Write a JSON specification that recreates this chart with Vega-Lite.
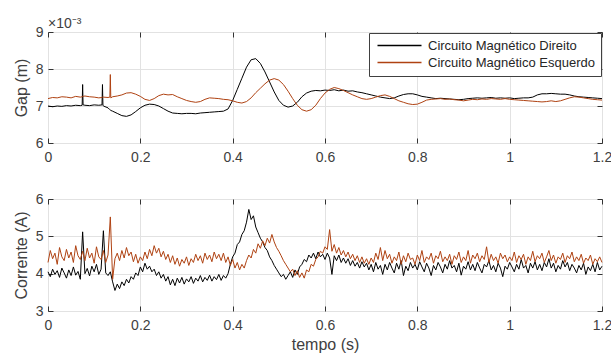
{
"$schema":"https://vega.github.io/schema/vega-lite/v6.json",
"padding":{"left":12,"top":16,"right":0,"bottom":0},
"background":"white",
"config":{
 "font":"Liberation Sans",
 "view":{"stroke":"#555555","strokeWidth":1},
 "axis":{"grid":true,"gridColor":"#e2e2e2","domain":false,"tickColor":"#333333","tickSize":-5,"labelPadding":10,"labelFontSize":14,"labelColor":"#404040","titleFontSize":16,"titleFontWeight":"normal","titleColor":"#404040","labelFlush":false,"labelOverlap":false,"titlePadding":6},
 "axisX":{"labelPadding":12,"titlePadding":4},
 "legend":{"labelFontSize":13,"labelColor":"#262626"}
},
"datasets":{
"gap":[
{"t":0,"d":0.00700,"e":0.00720},{"t":0.01,"d":0.00698,"e":0.00723},{"t":0.02,"d":0.00700,"e":0.00722},{"t":0.03,"d":0.00699,"e":0.00725},{"t":0.04,"d":0.00701,"e":0.00724},{"t":0.05,"d":0.00700,"e":0.00722},{"t":0.06,"d":0.00702,"e":0.00726},{"t":0.07,"d":0.00701,"e":0.00724},{"t":0.074,"d":0.00702,"e":0.00725},{"t":0.075,"d":0.00758,"e":0.00726},{"t":0.076,"d":0.00703,"e":0.00726},{"t":0.08,"d":0.00702,"e":0.00727},{"t":0.09,"d":0.00701,"e":0.00725},{"t":0.10,"d":0.00703,"e":0.00724},{"t":0.11,"d":0.00702,"e":0.00722},{"t":0.117,"d":0.00703,"e":0.00723},{"t":0.118,"d":0.00758,"e":0.00724},{"t":0.119,"d":0.00702,"e":0.00724},{"t":0.12,"d":0.00700,"e":0.00724},{"t":0.13,"d":0.00695,"e":0.00723},{"t":0.134,"d":0.00690,"e":0.00724},{"t":0.135,"d":0.00689,"e":0.00785},{"t":0.136,"d":0.00688,"e":0.00722},{"t":0.14,"d":0.00686,"e":0.00725},{"t":0.15,"d":0.00680,"e":0.00727},{"t":0.16,"d":0.00674,"e":0.00730},{"t":0.17,"d":0.00672,"e":0.00735},{"t":0.18,"d":0.00676,"e":0.00736},{"t":0.19,"d":0.00685,"e":0.00732},{"t":0.20,"d":0.00695,"e":0.00726},{"t":0.21,"d":0.00702,"e":0.00718},{"t":0.22,"d":0.00705,"e":0.00715},{"t":0.23,"d":0.00704,"e":0.00720},{"t":0.24,"d":0.00700,"e":0.00728},{"t":0.25,"d":0.00693,"e":0.00732},{"t":0.26,"d":0.00686,"e":0.00730},{"t":0.27,"d":0.00681,"e":0.00731},{"t":0.28,"d":0.00680,"e":0.00725},{"t":0.29,"d":0.00679,"e":0.00720},{"t":0.30,"d":0.00680,"e":0.00715},{"t":0.31,"d":0.00680,"e":0.00712},{"t":0.32,"d":0.00679,"e":0.00710},{"t":0.33,"d":0.00681,"e":0.00712},{"t":0.34,"d":0.00682,"e":0.00718},{"t":0.35,"d":0.00683,"e":0.00722},{"t":0.36,"d":0.00684,"e":0.00721},{"t":0.37,"d":0.00685,"e":0.00720},{"t":0.38,"d":0.00686,"e":0.00718},{"t":0.39,"d":0.00692,"e":0.00717},{"t":0.40,"d":0.00715,"e":0.00714},{"t":0.41,"d":0.00745,"e":0.00710},{"t":0.42,"d":0.00775,"e":0.00708},{"t":0.43,"d":0.00805,"e":0.00712},{"t":0.44,"d":0.00825,"e":0.00722},{"t":0.45,"d":0.00828,"e":0.00736},{"t":0.46,"d":0.00815,"e":0.00748},{"t":0.47,"d":0.00792,"e":0.00760},{"t":0.48,"d":0.00765,"e":0.00770},{"t":0.49,"d":0.00738,"e":0.00774},{"t":0.50,"d":0.00715,"e":0.00770},{"t":0.51,"d":0.00702,"e":0.00758},{"t":0.52,"d":0.00697,"e":0.00740},{"t":0.53,"d":0.00700,"e":0.00720},{"t":0.54,"d":0.00710,"e":0.00702},{"t":0.55,"d":0.00725,"e":0.00690},{"t":0.56,"d":0.00735,"e":0.00686},{"t":0.57,"d":0.00740,"e":0.00690},{"t":0.58,"d":0.00742,"e":0.00702},{"t":0.59,"d":0.00741,"e":0.00720},{"t":0.60,"d":0.00743,"e":0.00735},{"t":0.61,"d":0.00742,"e":0.00745},{"t":0.62,"d":0.00744,"e":0.00750},{"t":0.63,"d":0.00741,"e":0.00747},{"t":0.64,"d":0.00743,"e":0.00742},{"t":0.65,"d":0.00740,"e":0.00736},{"t":0.66,"d":0.00741,"e":0.00730},{"t":0.67,"d":0.00738,"e":0.00725},{"t":0.68,"d":0.00736,"e":0.00720},{"t":0.69,"d":0.00733,"e":0.00718},{"t":0.70,"d":0.00730,"e":0.00720},{"t":0.71,"d":0.00727,"e":0.00724},{"t":0.72,"d":0.00724,"e":0.00728},{"t":0.73,"d":0.00722,"e":0.00730},{"t":0.74,"d":0.00720,"e":0.00726},{"t":0.75,"d":0.00722,"e":0.00720},{"t":0.76,"d":0.00727,"e":0.00714},{"t":0.77,"d":0.00731,"e":0.00710},{"t":0.78,"d":0.00733,"e":0.00706},{"t":0.79,"d":0.00733,"e":0.00704},{"t":0.80,"d":0.00730,"e":0.00705},{"t":0.81,"d":0.00726,"e":0.00710},{"t":0.82,"d":0.00724,"e":0.00716},{"t":0.83,"d":0.00722,"e":0.00718},{"t":0.84,"d":0.00720,"e":0.00719},{"t":0.85,"d":0.00721,"e":0.00720},{"t":0.86,"d":0.00720,"e":0.00718},{"t":0.87,"d":0.00719,"e":0.00719},{"t":0.88,"d":0.00718,"e":0.00717},{"t":0.89,"d":0.00717,"e":0.00716},{"t":0.90,"d":0.00718,"e":0.00714},{"t":0.91,"d":0.00720,"e":0.00716},{"t":0.92,"d":0.00721,"e":0.00718},{"t":0.93,"d":0.00722,"e":0.00717},{"t":0.94,"d":0.00721,"e":0.00719},{"t":0.95,"d":0.00722,"e":0.00718},{"t":0.96,"d":0.00723,"e":0.00720},{"t":0.97,"d":0.00721,"e":0.00719},{"t":0.98,"d":0.00722,"e":0.00718},{"t":0.99,"d":0.00721,"e":0.00720},{"t":1.00,"d":0.00722,"e":0.00718},{"t":1.01,"d":0.00720,"e":0.00717},{"t":1.02,"d":0.00721,"e":0.00716},{"t":1.03,"d":0.00722,"e":0.00715},{"t":1.04,"d":0.00722,"e":0.00714},{"t":1.05,"d":0.00724,"e":0.00713},{"t":1.06,"d":0.00730,"e":0.00712},{"t":1.07,"d":0.00733,"e":0.00711},{"t":1.08,"d":0.00733,"e":0.00712},{"t":1.09,"d":0.00734,"e":0.00714},{"t":1.10,"d":0.00733,"e":0.00712},{"t":1.11,"d":0.00732,"e":0.00714},{"t":1.12,"d":0.00732,"e":0.00718},{"t":1.13,"d":0.00730,"e":0.00722},{"t":1.14,"d":0.00727,"e":0.00725},{"t":1.15,"d":0.00725,"e":0.00724},{"t":1.16,"d":0.00724,"e":0.00722},{"t":1.17,"d":0.00723,"e":0.00720},{"t":1.18,"d":0.00722,"e":0.00718},{"t":1.19,"d":0.00721,"e":0.00717},{"t":1.20,"d":0.00720,"e":0.00716}
],
"cur":[
{"t":0,"d":4.05,"e":4.30},{"t":0.005,"d":3.92,"e":4.62},{"t":0.01,"d":4.12,"e":4.40},{"t":0.015,"d":3.98,"e":4.55},{"t":0.02,"d":4.08,"e":4.25},{"t":0.025,"d":3.90,"e":4.70},{"t":0.03,"d":4.15,"e":4.45},{"t":0.035,"d":4.02,"e":4.35},{"t":0.04,"d":3.88,"e":4.65},{"t":0.045,"d":4.10,"e":4.42},{"t":0.05,"d":3.95,"e":4.58},{"t":0.055,"d":4.18,"e":4.30},{"t":0.06,"d":3.96,"e":4.75},{"t":0.065,"d":4.06,"e":4.48},{"t":0.07,"d":3.85,"e":4.38},{"t":0.075,"d":5.12,"e":4.60},{"t":0.08,"d":4.00,"e":4.35},{"t":0.085,"d":4.14,"e":4.68},{"t":0.09,"d":3.94,"e":4.42},{"t":0.095,"d":4.20,"e":4.55},{"t":0.1,"d":4.05,"e":4.28},{"t":0.105,"d":4.25,"e":4.72},{"t":0.11,"d":3.98,"e":4.45},{"t":0.115,"d":4.12,"e":4.38},{"t":0.12,"d":5.15,"e":4.62},{"t":0.125,"d":4.02,"e":4.30},{"t":0.13,"d":3.95,"e":4.50},{"t":0.135,"d":4.05,"e":5.52},{"t":0.14,"d":3.78,"e":3.85},{"t":0.145,"d":3.55,"e":4.40},{"t":0.15,"d":3.72,"e":4.55},{"t":0.155,"d":3.60,"e":4.35},{"t":0.16,"d":3.78,"e":4.62},{"t":0.165,"d":3.68,"e":4.42},{"t":0.17,"d":3.85,"e":4.70},{"t":0.175,"d":3.75,"e":4.48},{"t":0.18,"d":3.92,"e":4.58},{"t":0.185,"d":3.85,"e":4.32},{"t":0.19,"d":4.02,"e":4.52},{"t":0.195,"d":3.95,"e":4.28},{"t":0.2,"d":4.18,"e":4.45},{"t":0.205,"d":4.05,"e":4.35},{"t":0.21,"d":4.28,"e":4.58},{"t":0.215,"d":4.12,"e":4.40},{"t":0.22,"d":4.20,"e":4.65},{"t":0.225,"d":4.05,"e":4.48},{"t":0.23,"d":4.12,"e":4.75},{"t":0.235,"d":3.95,"e":4.55},{"t":0.24,"d":4.05,"e":4.68},{"t":0.245,"d":3.88,"e":4.45},{"t":0.25,"d":3.98,"e":4.60},{"t":0.255,"d":3.80,"e":4.38},{"t":0.26,"d":3.92,"e":4.52},{"t":0.265,"d":3.70,"e":4.30},{"t":0.27,"d":3.85,"e":4.48},{"t":0.275,"d":3.68,"e":4.25},{"t":0.28,"d":3.88,"e":4.42},{"t":0.285,"d":3.75,"e":4.20},{"t":0.29,"d":3.90,"e":4.38},{"t":0.295,"d":3.72,"e":4.28},{"t":0.3,"d":3.86,"e":4.45},{"t":0.305,"d":3.78,"e":4.22},{"t":0.31,"d":3.92,"e":4.40},{"t":0.315,"d":3.74,"e":4.30},{"t":0.32,"d":3.88,"e":4.52},{"t":0.325,"d":3.80,"e":4.35},{"t":0.33,"d":3.95,"e":4.48},{"t":0.335,"d":3.78,"e":4.28},{"t":0.34,"d":3.90,"e":4.55},{"t":0.345,"d":3.82,"e":4.38},{"t":0.35,"d":3.96,"e":4.50},{"t":0.355,"d":3.80,"e":4.32},{"t":0.36,"d":3.92,"e":4.58},{"t":0.365,"d":3.84,"e":4.40},{"t":0.37,"d":3.98,"e":4.52},{"t":0.375,"d":3.82,"e":4.35},{"t":0.38,"d":3.95,"e":4.55},{"t":0.385,"d":3.88,"e":4.30},{"t":0.39,"d":4.00,"e":4.45},{"t":0.395,"d":4.25,"e":4.22},{"t":0.4,"d":4.45,"e":4.38},{"t":0.405,"d":4.55,"e":4.15},{"t":0.41,"d":4.78,"e":4.30},{"t":0.415,"d":4.85,"e":4.10},{"t":0.42,"d":5.05,"e":4.25},{"t":0.425,"d":5.15,"e":4.15},{"t":0.43,"d":5.38,"e":4.35},{"t":0.435,"d":5.72,"e":4.50},{"t":0.44,"d":5.45,"e":4.42},{"t":0.445,"d":5.55,"e":4.65},{"t":0.45,"d":5.25,"e":4.55},{"t":0.455,"d":5.10,"e":4.80},{"t":0.46,"d":4.95,"e":4.68},{"t":0.465,"d":4.85,"e":4.88},{"t":0.47,"d":4.70,"e":4.75},{"t":0.475,"d":4.62,"e":4.95},{"t":0.48,"d":4.45,"e":4.82},{"t":0.485,"d":4.35,"e":5.05},{"t":0.49,"d":4.22,"e":4.85},{"t":0.495,"d":4.12,"e":4.70},{"t":0.5,"d":4.02,"e":4.60},{"t":0.505,"d":3.92,"e":4.48},{"t":0.51,"d":3.98,"e":4.35},{"t":0.515,"d":3.85,"e":4.25},{"t":0.52,"d":3.95,"e":4.15},{"t":0.525,"d":4.05,"e":4.05},{"t":0.53,"d":3.90,"e":4.12},{"t":0.535,"d":4.10,"e":3.95},{"t":0.54,"d":3.98,"e":4.08},{"t":0.545,"d":4.18,"e":3.90},{"t":0.55,"d":4.25,"e":4.02},{"t":0.555,"d":4.38,"e":3.88},{"t":0.56,"d":4.32,"e":4.10},{"t":0.565,"d":4.50,"e":4.05},{"t":0.57,"d":4.42,"e":4.25},{"t":0.575,"d":4.55,"e":4.20},{"t":0.58,"d":4.40,"e":4.38},{"t":0.585,"d":4.58,"e":4.45},{"t":0.59,"d":4.45,"e":4.60},{"t":0.595,"d":4.52,"e":4.55},{"t":0.6,"d":4.38,"e":4.72},{"t":0.605,"d":4.55,"e":4.65},{"t":0.61,"d":4.42,"e":5.18},{"t":0.615,"d":3.98,"e":4.60},{"t":0.62,"d":4.48,"e":4.78},{"t":0.625,"d":4.35,"e":4.55},{"t":0.63,"d":4.50,"e":4.70},{"t":0.635,"d":4.30,"e":4.50},{"t":0.64,"d":4.42,"e":4.62},{"t":0.645,"d":4.28,"e":4.45},{"t":0.65,"d":4.40,"e":4.58},{"t":0.655,"d":4.22,"e":4.40},{"t":0.66,"d":4.35,"e":4.52},{"t":0.665,"d":4.20,"e":4.35},{"t":0.67,"d":4.30,"e":4.48},{"t":0.675,"d":4.15,"e":4.30},{"t":0.68,"d":4.32,"e":4.45},{"t":0.685,"d":4.18,"e":4.28},{"t":0.69,"d":4.28,"e":4.40},{"t":0.695,"d":4.10,"e":4.25},{"t":0.7,"d":4.25,"e":4.42},{"t":0.705,"d":4.05,"e":4.30},{"t":0.71,"d":4.30,"e":4.55},{"t":0.715,"d":4.12,"e":4.38},{"t":0.72,"d":4.22,"e":4.70},{"t":0.725,"d":3.98,"e":4.35},{"t":0.73,"d":4.25,"e":4.62},{"t":0.735,"d":4.10,"e":4.40},{"t":0.74,"d":4.30,"e":4.52},{"t":0.745,"d":4.15,"e":4.28},{"t":0.75,"d":4.02,"e":4.45},{"t":0.755,"d":4.28,"e":4.35},{"t":0.76,"d":4.12,"e":4.58},{"t":0.765,"d":4.35,"e":4.25},{"t":0.77,"d":3.95,"e":4.48},{"t":0.775,"d":4.20,"e":4.32},{"t":0.78,"d":4.08,"e":4.55},{"t":0.785,"d":4.30,"e":4.38},{"t":0.79,"d":4.15,"e":4.42},{"t":0.795,"d":4.25,"e":4.25},{"t":0.8,"d":4.10,"e":4.50},{"t":0.805,"d":4.32,"e":4.35},{"t":0.81,"d":4.18,"e":4.62},{"t":0.815,"d":4.05,"e":4.30},{"t":0.82,"d":4.28,"e":4.45},{"t":0.825,"d":4.15,"e":4.38},{"t":0.83,"d":3.95,"e":4.55},{"t":0.835,"d":4.22,"e":4.28},{"t":0.84,"d":4.10,"e":4.48},{"t":0.845,"d":4.30,"e":4.40},{"t":0.85,"d":4.18,"e":4.60},{"t":0.855,"d":4.02,"e":4.32},{"t":0.86,"d":4.25,"e":4.45},{"t":0.865,"d":4.12,"e":4.35},{"t":0.87,"d":4.35,"e":4.52},{"t":0.875,"d":4.15,"e":4.25},{"t":0.88,"d":4.22,"e":4.48},{"t":0.885,"d":4.05,"e":4.38},{"t":0.89,"d":4.28,"e":4.58},{"t":0.895,"d":3.96,"e":4.30},{"t":0.9,"d":4.20,"e":4.45},{"t":0.905,"d":4.12,"e":4.35},{"t":0.91,"d":4.32,"e":4.62},{"t":0.915,"d":4.10,"e":4.28},{"t":0.92,"d":4.25,"e":4.50},{"t":0.925,"d":4.08,"e":4.40},{"t":0.93,"d":4.30,"e":4.55},{"t":0.935,"d":4.15,"e":4.32},{"t":0.94,"d":4.02,"e":4.48},{"t":0.945,"d":4.25,"e":4.38},{"t":0.95,"d":4.18,"e":4.72},{"t":0.955,"d":4.35,"e":4.30},{"t":0.96,"d":4.10,"e":4.52},{"t":0.965,"d":4.22,"e":4.35},{"t":0.97,"d":4.05,"e":4.45},{"t":0.975,"d":4.28,"e":4.28},{"t":0.98,"d":4.15,"e":4.55},{"t":0.985,"d":3.92,"e":4.40},{"t":0.99,"d":4.20,"e":4.50},{"t":0.995,"d":4.12,"e":4.32},{"t":1,"d":4.30,"e":4.45},{"t":1.005,"d":4.18,"e":4.35},{"t":1.01,"d":4.05,"e":4.58},{"t":1.015,"d":4.25,"e":4.30},{"t":1.02,"d":4.12,"e":4.48},{"t":1.025,"d":4.38,"e":4.38},{"t":1.03,"d":4.15,"e":4.52},{"t":1.035,"d":4.22,"e":4.25},{"t":1.04,"d":4.02,"e":4.45},{"t":1.045,"d":4.28,"e":4.35},{"t":1.05,"d":4.15,"e":4.60},{"t":1.055,"d":4.32,"e":4.32},{"t":1.06,"d":4.10,"e":4.48},{"t":1.065,"d":4.25,"e":4.40},{"t":1.07,"d":4.08,"e":4.55},{"t":1.075,"d":4.30,"e":4.30},{"t":1.08,"d":4.18,"e":4.45},{"t":1.085,"d":4.40,"e":4.62},{"t":1.09,"d":4.15,"e":4.35},{"t":1.095,"d":4.28,"e":4.50},{"t":1.1,"d":4.05,"e":4.28},{"t":1.105,"d":4.22,"e":4.45},{"t":1.11,"d":4.12,"e":4.38},{"t":1.115,"d":4.35,"e":4.55},{"t":1.12,"d":4.18,"e":4.30},{"t":1.125,"d":4.30,"e":4.48},{"t":1.13,"d":4.08,"e":4.40},{"t":1.135,"d":4.25,"e":4.58},{"t":1.14,"d":4.15,"e":4.32},{"t":1.145,"d":4.02,"e":4.45},{"t":1.15,"d":4.22,"e":4.35},{"t":1.155,"d":4.10,"e":4.52},{"t":1.16,"d":4.28,"e":4.28},{"t":1.165,"d":3.98,"e":4.42},{"t":1.17,"d":4.18,"e":4.35},{"t":1.175,"d":4.08,"e":4.50},{"t":1.18,"d":4.25,"e":4.25},{"t":1.185,"d":4.05,"e":4.40},{"t":1.19,"d":4.30,"e":4.32},{"t":1.195,"d":4.10,"e":4.45},{"t":1.2,"d":4.20,"e":4.30}
]
},
"bounds":"flush",
"spacing":56,
"resolve":{"scale":{"color":"independent"},"legend":{"color":"independent"}},
"vconcat":[
{
 "width":554,"height":111,
 "title":{"text":"×10⁻³","anchor":"start","frame":"group","fontSize":14,"fontWeight":"normal","color":"#404040","offset":-6},
 "data":{"name":"gap"},
 "transform":[{"fold":["d","e"],"as":["s","v"]}],
 "layer":[
  {"mark":{"type":"line","strokeWidth":1},
   "encoding":{
    "x":{"field":"t","type":"quantitative","scale":{"domain":[0,1.2],"nice":false},"axis":{"values":[0,0.2,0.4,0.6,0.8,1,1.2],"format":"~g","title":null}},
    "y":{"field":"v","type":"quantitative","scale":{"domain":[0.006,0.009],"nice":false,"zero":false},"axis":{"values":[0.006,0.007,0.008,0.009],"labelExpr":"format(datum.value*1000,'d')","title":"Gap (m)"}},
    "color":{"field":"s","type":"nominal","scale":{"domain":["d","e"],"range":["#000000","#af4212"]},"legend":{"orient":"top-right","offset":1,"title":null,"labelExpr":"datum.value=='d' ? 'Circuito Magnético Direito' : 'Circuito Magnético Esquerdo\u00a0\u00a0\u00a0\u00a0\u00a0'","labelLimit":400,"strokeColor":"#404040","fillColor":"white","padding":6,"symbolType":"M-4,0H4","symbolSize":121,"symbolOffset":18,"symbolStrokeWidth":1.5,"labelOffset":22,"rowPadding":3,"cornerRadius":0}}
   }},
  {"mark":{"type":"line","opacity":0},
   "encoding":{
    "x":{"field":"t","type":"quantitative","axis":{"orient":"top","values":[0,0.2,0.4,0.6,0.8,1,1.2],"labels":false,"grid":false,"title":null}},
    "y":{"field":"v","type":"quantitative","axis":{"orient":"right","values":[0.006,0.007,0.008,0.009],"labels":false,"grid":false,"title":null}}
   }}
 ],
 "resolve":{"axis":{"x":"independent","y":"independent"}}
},
{
 "width":554,"height":112,
 "data":{"name":"cur"},
 "transform":[{"fold":["d","e"],"as":["s","v"]}],
 "layer":[
  {"mark":{"type":"line","strokeWidth":1},
   "encoding":{
    "x":{"field":"t","type":"quantitative","scale":{"domain":[0,1.2],"nice":false},"axis":{"values":[0,0.2,0.4,0.6,0.8,1,1.2],"format":"~g","title":"tempo (s)"}},
    "y":{"field":"v","type":"quantitative","scale":{"domain":[3,6],"nice":false,"zero":false},"axis":{"values":[3,4,5,6],"format":"d","title":"Corrente (A)"}},
    "color":{"field":"s","type":"nominal","scale":{"domain":["d","e"],"range":["#000000","#af4212"]},"legend":null}
   }},
  {"mark":{"type":"line","opacity":0},
   "encoding":{
    "x":{"field":"t","type":"quantitative","axis":{"orient":"top","values":[0,0.2,0.4,0.6,0.8,1,1.2],"labels":false,"grid":false,"title":null}},
    "y":{"field":"v","type":"quantitative","axis":{"orient":"right","values":[3,4,5,6],"labels":false,"grid":false,"title":null}}
   }}
 ],
 "resolve":{"axis":{"x":"independent","y":"independent"}}
}
]
}
